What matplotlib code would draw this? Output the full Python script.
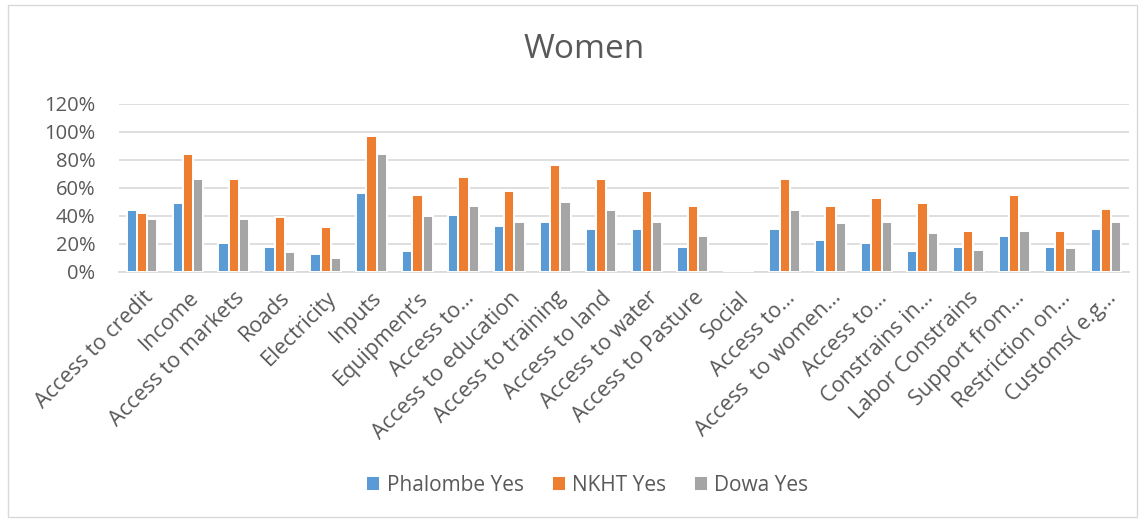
import matplotlib
matplotlib.use("Agg")
import matplotlib.pyplot as plt
import numpy as np
from matplotlib.patches import Rectangle

plt.rcParams['font.family'] = ['Open Sans', 'DejaVu Sans']

categories = [
    "Access to credit", "Income", "Access to markets", "Roads", "Electricity",
    "Inputs", "Equipment\u2019s", "Access to\u2026", "Access to education",
    "Access to training", "Access to land", "Access to water",
    "Access to Pasture", "Social", "Access to\u2026", "Access  to women\u2026",
    "Access to\u2026", "Constrains in\u2026", "Labor Constrains",
    "Support from\u2026", "Restriction on\u2026", "Customs( e.g\u2026",
]
phalombe_yes = [44, 49, 21, 18, 13, 56, 15, 41, 33, 36, 31, 31, 18, 0,
                31, 23, 21, 15, 18, 26, 18, 31]
nkht_yes = [42, 84, 66, 39, 32, 97, 55, 68, 58, 76, 66, 58, 47, 0,
            66, 47, 53, 49, 29, 55, 29, 45]
dowa_yes = [38, 66, 38, 14, 10, 84, 40, 47, 36, 50, 44, 36, 26, 0,
            44, 35, 36, 28, 16, 29, 17, 36]
series_names = ["Phalombe Yes", "NKHT Yes", "Dowa Yes"]
colors = ["#5B9BD5", "#ED7D31", "#A5A5A5"]
yticks = [0, 20, 40, 60, 80, 100, 120]

fig = plt.figure(figsize=(11.45, 5.19), dpi=100)
ax = fig.add_axes([0.104, 0.476, 0.882, 0.324])

x = np.arange(len(categories))
w = 0.224
for i, (vals, name, c) in enumerate(zip([phalombe_yes, nkht_yes, dowa_yes],
                                        series_names, colors)):
    ax.bar(x + (i - 1) * w, np.array(vals) / 100, width=w, color=c,
           edgecolor="white", linewidth=1.4, label=name, zorder=3)

ax.set_xlim(-0.5, len(categories) - 0.5)
ax.set_ylim(0, 1.2)
ax.set_yticks([t / 100 for t in yticks])
ax.set_yticklabels([f"{t}%" for t in yticks], fontsize=14.5, color="#595959")
ax.yaxis.grid(True, color="#d9d9d9", linewidth=1.2, zorder=0)
ax.set_axisbelow(True)
ax.tick_params(axis="y", length=0, pad=17)
ax.tick_params(axis="x", length=0, pad=11)
ax.set_xticks(x)
ax.set_xticklabels(categories, rotation=45, ha="right",
                   rotation_mode="anchor", fontsize=15.5, color="#595959")
for s in ["top", "right", "left"]:
    ax.spines[s].set_visible(False)
ax.spines["bottom"].set_color("#d9d9d9")
ax.spines["bottom"].set_linewidth(1.2)

fig.text(0.51, 0.904, "Women", ha="center", va="center", fontsize=24,
         color="#595959")

fig.legend(loc="center", bbox_to_anchor=(0.513, 0.065), ncol=3, frameon=False,
           fontsize=15, handlelength=0.67, handleheight=0.67,
           handletextpad=0.3, columnspacing=1.35, labelcolor="#595959")

fig.patches.append(Rectangle((0.007, 0.004), 0.986, 0.986,
                             transform=fig.transFigure, fill=False,
                             edgecolor="#d9d9d9", linewidth=1))

fig.savefig("out.png", dpi=100)
